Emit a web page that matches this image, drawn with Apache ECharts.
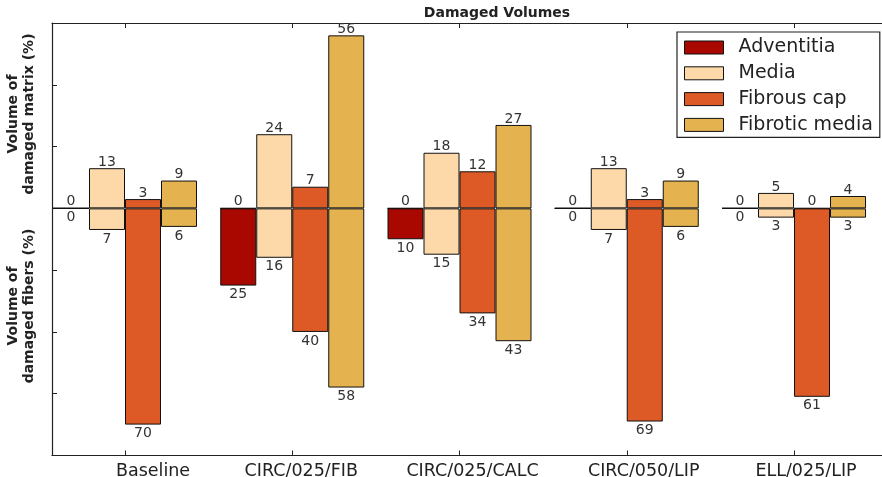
<!DOCTYPE html>
<html>
<head>
<meta charset="utf-8">
<script src="https://cdn.jsdelivr.net/npm/echarts@6/dist/echarts.min.js"></script>
<style>
  html, body { margin: 0; padding: 0; background: #fff; }
  #chart { width: 882px; height: 477px; }
</style>
</head>
<body>
<div id="chart"></div>
<script>
// Cases along the x axis
const cases = ['Baseline', 'CIRC/025/FIB', 'CIRC/025/CALC', 'CIRC/050/LIP', 'ELL/025/LIP'];
const tissues = ['Adventitia', 'Media', 'Fibrous cap', 'Fibrotic media'];
const tissueColors = ['#a80800', '#fdd8a8', '#dd5a26', '#e4b24e'];

// Volume of damaged matrix (%), drawn above zero
const matrixAdventitia = [0, 0, 0, 0, 0];
const matrixMedia = [13, 24, 18, 13, 5];
const matrixFibrousCap = [3, 7, 12, 3, 0];
const matrixFibroticMedia = [9, 56, 27, 9, 4];

// Volume of damaged fibers (%), drawn below zero
const fibersAdventitia = [0, 25, 10, 0, 0];
const fibersMedia = [7, 16, 15, 7, 3];
const fibersFibrousCap = [70, 40, 34, 69, 61];
const fibersFibroticMedia = [6, 58, 43, 6, 3];

const yTicks = [-80, -60, -40, -20, 0, 20, 40, 60];

const matrix = [matrixAdventitia, matrixMedia, matrixFibrousCap, matrixFibroticMedia];
const fibers = [fibersAdventitia, fibersMedia, fibersFibrousCap, fibersFibroticMedia];

const FONT = 'DejaVu Sans';
const caseIdx = cases.map((c, i) => i);

// x range: the frame runs past the right edge of the canvas
const xMin = -0.4365, xMax = 4.825;
const GRID_LEFT = 52, GRID_WIDTH = 880;
const pxPerCase = GRID_WIDTH / (xMax - xMin);
// case names sit a little to the right of their ticks (pixel nudges)
const labelNudgePx = [28, 9, 13, 17, 12];
const labelPositions = caseIdx.map(i => i + labelNudgePx[i] / pxPerCase);

const series = [];
tissues.forEach((name, t) => {
  const common = {
    name: name,
    type: 'bar',
    stack: 'col' + t,
    barWidth: 36,
    barGap: '0%',
    xAxisIndex: 0,
    itemStyle: { color: tissueColors[t], borderColor: '#111', borderWidth: 1 },
    emphasis: { disabled: true },
    animation: false
  };
  series.push(Object.assign({}, common, {
    data: matrix[t].map((v, i) => [i, v]),
    label: {
      show: true, position: 'top', distance: -1,
      fontFamily: FONT, fontSize: 14, color: '#333',
      formatter: p => Math.abs(p.value[1])
    }
  }));
  series.push(Object.assign({}, common, {
    data: fibers[t].map((v, i) => [i, -v]),
    label: {
      show: true, position: 'bottom', distance: 2,
      fontFamily: FONT, fontSize: 14, color: '#333',
      formatter: p => Math.abs(p.value[1])
    }
  }));
});

const chart = echarts.init(document.getElementById('chart'), null, { renderer: 'canvas' });
chart.setOption({
  backgroundColor: '#fff',
  animation: false,
  title: {
    text: 'Damaged Volumes',
    left: 492, top: 1, textAlign: 'center',
    textStyle: { fontFamily: FONT, fontSize: 14, fontWeight: 'bold', color: '#222' }
  },
  grid: { left: GRID_LEFT, width: GRID_WIDTH, top: 23, bottom: 21.5, containLabel: false, outerBoundsMode: 'none' },
  legend: {
    data: tissues,
    orient: 'vertical',
    left: 677, top: 32,
    padding: [6, 7, 3, 7],
    itemWidth: 39, itemHeight: 13, itemGap: 6.8,
    icon: 'rect',
    borderColor: '#222', borderWidth: 1.2, borderRadius: 0,
    backgroundColor: '#fff',
    itemStyle: { borderColor: '#111', borderWidth: 1 },
    textStyle: { fontFamily: FONT, fontSize: 19, color: '#222', padding: [0, 0, 0, 10] }
  },
  xAxis: [
    {
      type: 'value', position: 'bottom', min: xMin, max: xMax,
      axisLine: { show: true, onZero: false, lineStyle: { color: '#222', width: 1.2 } },
      axisTick: { show: true, inside: true, length: 5, customValues: caseIdx, lineStyle: { color: '#222' } },
      axisLabel: {
        show: true, customValues: labelPositions, margin: 7,
        fontFamily: FONT, fontSize: 17.5, color: '#222',
        formatter: v => cases[Math.round(v)]
      },
      splitLine: { show: false }
    },
    {
      type: 'value', position: 'top', min: xMin, max: xMax,
      axisLine: { show: true, onZero: false, lineStyle: { color: '#222', width: 1.2 } },
      axisTick: { show: true, inside: true, length: 5, customValues: caseIdx, lineStyle: { color: '#222' } },
      axisLabel: { show: false },
      splitLine: { show: false }
    }
  ],
  yAxis: {
    type: 'value', min: -80, max: 60, interval: 20,
    axisLine: { show: true, onZero: false, lineStyle: { color: '#222', width: 1.2 } },
    axisTick: { show: true, inside: true, length: 5, customValues: yTicks, lineStyle: { color: '#222' } },
    axisLabel: { show: false },
    splitLine: { show: false }
  },
  graphic: [
    {
      type: 'text', x: 21, y: 114, rotation: Math.PI / 2,
      style: {
        text: 'Volume of\ndamaged matrix (%)', fill: '#222',
        font: 'bold 14px "DejaVu Sans"', align: 'center', verticalAlign: 'middle', lineHeight: 16
      }
    },
    {
      type: 'text', x: 21, y: 306, rotation: Math.PI / 2,
      style: {
        text: 'Volume of\ndamaged fibers (%)', fill: '#222',
        font: 'bold 14px "DejaVu Sans"', align: 'center', verticalAlign: 'middle', lineHeight: 16
      }
    }
  ],
  series: series
});
</script>
</body>
</html>
